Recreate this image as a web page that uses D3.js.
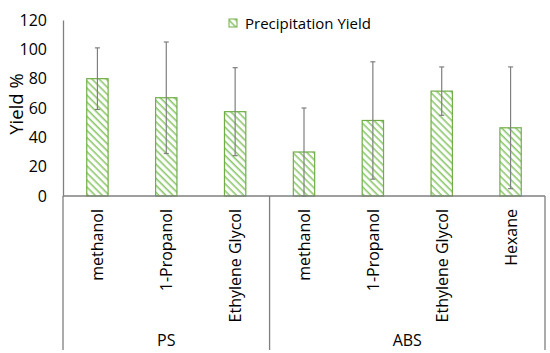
<!DOCTYPE html>
<html>
<head>
<meta charset="utf-8">
<script src="https://cdn.jsdelivr.net/npm/d3@7"></script>
<style>
  body { margin: 0; background: #fff; }
  text { font-family: "Open Sans", "Noto Sans", sans-serif; fill: #000; }
</style>
</head>
<body>
<script>
// data
var solvents = ["methanol", "1-Propanol", "Ethylene Glycol", "methanol", "1-Propanol", "Ethylene Glycol", "Hexane"];
var groups = ["PS", "PS", "PS", "ABS", "ABS", "ABS", "ABS"];
var groupNames = ["PS", "ABS"];
var yieldValues = [80, 67, 57.5, 30, 51.5, 71.5, 46.5];
var yieldErrors = [21, 38, 30, 30, 40, 16.5, 41.5];
var yTicks = [0, 20, 40, 60, 80, 100, 120];

var width = 550, height = 353;
var plotLeft = 63, plotRight = 545, plotTop = 20, plotBottom = 196;

var svg = d3.select("body").append("svg")
    .attr("width", width)
    .attr("height", height);

// hatch pattern (stripes running top-left to bottom-right)
var defs = svg.append("defs");
var pat = defs.append("pattern")
    .attr("id", "hatch")
    .attr("patternUnits", "userSpaceOnUse")
    .attr("width", 5)
    .attr("height", 5)
    .attr("patternTransform", "rotate(45)");
pat.append("rect").attr("width", 5).attr("height", 5).attr("fill", "#fff");
pat.append("line")
    .attr("x1", 0).attr("y1", 0).attr("x2", 5).attr("y2", 0)
    .attr("stroke", "#8cc96b")
    .attr("stroke-width", 3.2);

// scales
var xscale = d3.scaleBand()
    .domain(d3.range(solvents.length))
    .range([plotLeft, plotRight])
    .paddingInner(0.69)
    .paddingOuter(0.345);

var yscale = d3.scaleLinear()
    .domain([0, 120])
    .range([plotBottom, plotTop]);

// y axis
var yaxis = d3.axisLeft(yscale).tickValues(yTicks).tickSize(0).tickPadding(16);
var gy = svg.append("g")
    .attr("transform", "translate(" + plotLeft + ",0)")
    .call(yaxis);
gy.select(".domain").attr("stroke", "#7f7f7f").attr("stroke-width", 1.3);
gy.selectAll("text")
    .style("font-family", "'Open Sans', sans-serif")
    .style("font-size", "16px")
    .attr("fill", "#000");

// y title
svg.append("text")
    .attr("transform", "translate(23,104) rotate(-90)")
    .attr("text-anchor", "middle")
    .style("font-size", "18.5px")
    .text("Yield %");

// bars
svg.selectAll(".bar")
    .data(yieldValues)
    .enter()
    .append("rect")
    .attr("class", "bar")
    .attr("x", function(d, i) { return xscale(i); })
    .attr("width", xscale.bandwidth())
    .attr("y", function(d) { return yscale(d); })
    .attr("height", function(d) { return yscale(0) - yscale(d); })
    .attr("fill", "url(#hatch)")
    .attr("stroke", "#70ad47")
    .attr("stroke-width", 1.2);

// error bars
var err = svg.selectAll(".err")
    .data(yieldValues)
    .enter()
    .append("g")
    .attr("class", "err")
    .attr("stroke", "#7f7f7f")
    .attr("stroke-width", 1.2);
err.append("line")
    .attr("x1", function(d, i) { return xscale(i) + xscale.bandwidth() / 2; })
    .attr("x2", function(d, i) { return xscale(i) + xscale.bandwidth() / 2; })
    .attr("y1", function(d, i) { return yscale(d + yieldErrors[i]); })
    .attr("y2", function(d, i) { return yscale(Math.max(0, d - yieldErrors[i])); });
[1, -1].forEach(function(sgn) {
  err.append("line")
    .attr("x1", function(d, i) { return xscale(i) + xscale.bandwidth() / 2 - 2.5; })
    .attr("x2", function(d, i) { return xscale(i) + xscale.bandwidth() / 2 + 2.5; })
    .attr("y1", function(d, i) { return yscale(Math.max(0, d + sgn * yieldErrors[i])); })
    .attr("y2", function(d, i) { return yscale(Math.max(0, d + sgn * yieldErrors[i])); });
});

// x axis line and group dividers
var step = xscale.step();
svg.append("line")
    .attr("x1", plotLeft).attr("x2", plotRight)
    .attr("y1", plotBottom).attr("y2", plotBottom)
    .attr("stroke", "#7f7f7f").attr("stroke-width", 1.3);

var groupStart = groupNames.map(function(g) { return groups.indexOf(g); });
var groupEnd = groupNames.map(function(g) { return groups.lastIndexOf(g) + 1; });
var divX = [plotLeft].concat(groupEnd.map(function(e) { return plotLeft + e * step; }));
svg.selectAll(".div")
    .data(divX)
    .enter()
    .append("line")
    .attr("x1", function(d) { return d; })
    .attr("x2", function(d) { return d; })
    .attr("y1", plotBottom)
    .attr("y2", 350)
    .attr("stroke", "#7f7f7f")
    .attr("stroke-width", 1.3);

// solvent labels
svg.selectAll(".cat")
    .data(solvents)
    .enter()
    .append("text")
    .attr("class", "cat")
    .attr("transform", function(d, i) {
      return "translate(" + (xscale(i) + xscale.bandwidth() / 2 + 6) + ",209) rotate(-90)";
    })
    .attr("text-anchor", "end")
    .style("font-size", "16px")
    .text(function(d) { return d; });

// group labels
svg.selectAll(".grp")
    .data(groupNames)
    .enter()
    .append("text")
    .attr("class", "grp")
    .attr("x", function(d, i) { return plotLeft + (groupStart[i] + groupEnd[i]) / 2 * step; })
    .attr("y", 346)
    .attr("text-anchor", "middle")
    .style("font-size", "16px")
    .text(function(d) { return d; });

// legend
var leg = svg.append("g").attr("transform", "translate(229,19)");
leg.append("rect")
    .attr("width", 8).attr("height", 8)
    .attr("fill", "url(#hatch)")
    .attr("stroke", "#70ad47");
leg.append("text")
    .attr("x", 16).attr("y", 9.5)
    .style("font-size", "15px")
    .text("Precipitation Yield");
</script>
</body>
</html>
